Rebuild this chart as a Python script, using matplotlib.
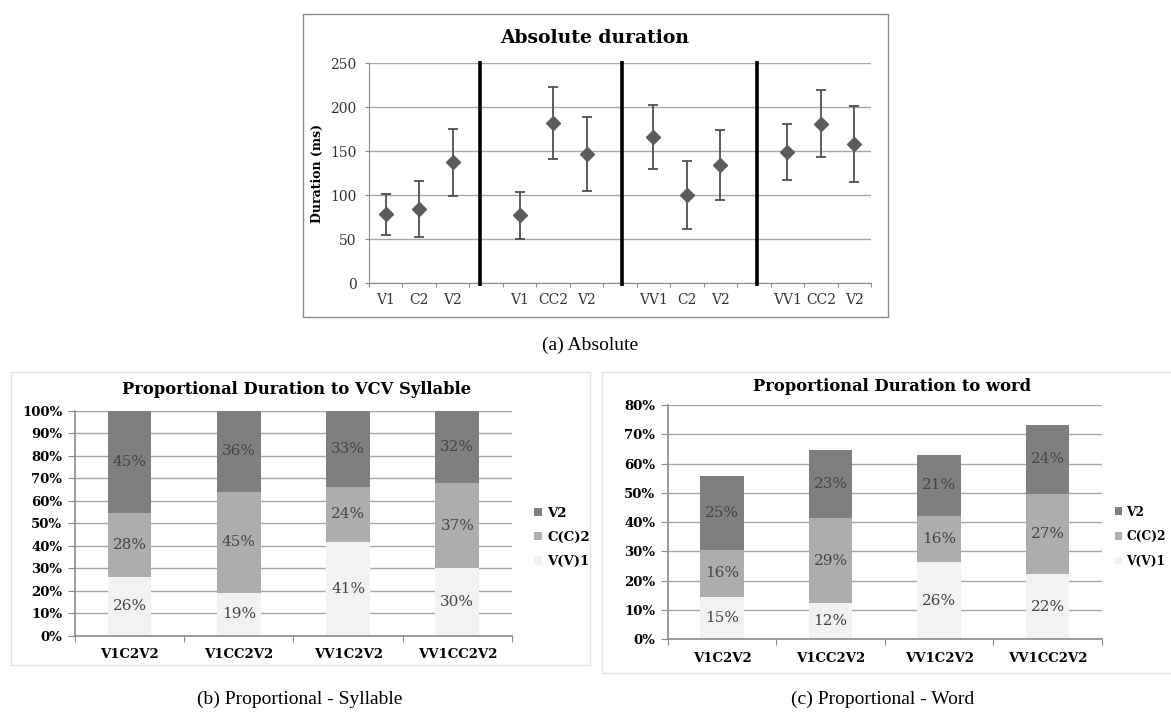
import numpy as np
import matplotlib
matplotlib.use('Agg')
import matplotlib.pyplot as plt
from matplotlib.patches import Rectangle

plt.rcParams['font.family'] = 'DejaVu Serif'

# (a) absolute durations in ms, blanks are the gaps between word types
seg_labels = ['V1', 'C2', 'V2', '', 'V1', 'CC2', 'V2', '', 'VV1', 'C2', 'V2', '', 'VV1', 'CC2', 'V2']
dur_mean = [78, 84, 137, np.nan, 77, 182, 147, np.nan, 166, 100, 134, np.nan, 149, 181, 158]
dur_sd = [23, 32, 38, np.nan, 27, 41, 42, np.nan, 36, 39, 40, np.nan, 32, 38, 43]
dividers = [3.32, 7.55, 11.58]

words = ['V1C2V2', 'V1CC2V2', 'VV1C2V2', 'VV1CC2V2']
series = ['V(V)1', 'C(C)2', 'V2']

# (b) share of the VCV syllable (%), 100% stacked
syl_v1 = [26, 19, 41, 30]
syl_c2 = [28, 45, 24, 37]
syl_v2 = [45, 36, 33, 32]

# (c) share of the word (%)
word_v1 = [14.6, 12.3, 26.3, 22.4]
word_c2 = [15.9, 29.1, 15.8, 27.3]
word_v2 = [25.2, 23.2, 20.9, 23.6]

colors = ['#f2f2f2', '#adadad', '#7f7f7f']
axis_grey = '#8a8a8a'
grid_grey = '#a6a6a6'

fig = plt.figure(figsize=(11.71, 7.22), dpi=100)

# chart frames
fig.add_artist(Rectangle((0.2588, 0.5609), 0.4996, 0.4197, transform=fig.transFigure,
                         fill=False, ec='#8c8c8c', lw=1))
fig.add_artist(Rectangle((0.0094, 0.0790), 0.4945, 0.4058, transform=fig.transFigure,
                         fill=False, ec='#e2e2e2', lw=1))
fig.add_artist(Rectangle((0.5141, 0.0679), 0.4900, 0.4169, transform=fig.transFigure,
                         fill=False, ec='#e2e2e2', lw=1))

# ---- (a) absolute duration
ax = fig.add_axes([0.3151, 0.6080, 0.4287, 0.3047])
x = np.arange(len(seg_labels)) + 0.5
ax.errorbar(x, dur_mean, yerr=dur_sd, fmt='D', color='#5c5c5c', ms=7,
            ecolor='#4f4f4f', elinewidth=1.3, capsize=3.5, capthick=1.3, zorder=3)
ax.vlines(dividers, -3, 252, colors='black', lw=2.6, clip_on=False, zorder=4)
ax.set_xlim(0, 15)
ax.set_ylim(0, 250)
ax.set_yticks(range(0, 251, 50))
ax.yaxis.grid(True, color=grid_grey, lw=1)
ax.set_axisbelow(True)
ax.set_xticks(np.arange(0, 16))
ax.set_xticklabels([])
ax.set_xticks(x, minor=True)
ax.set_xticklabels(seg_labels, minor=True, fontsize=10, color='#333333')
ax.tick_params(axis='x', which='minor', length=0, pad=7)
ax.tick_params(axis='x', which='major', length=3, color=axis_grey)
ax.tick_params(axis='y', length=3, color=axis_grey, labelsize=10, labelcolor='#333333', pad=6)
for s in ['top', 'right']:
    ax.spines[s].set_visible(False)
for s in ['left', 'bottom']:
    ax.spines[s].set_color(axis_grey)
fig.text(0.508, 0.948, 'Absolute duration', ha='center', va='center',
         fontsize=13.5, fontweight='bold')
fig.text(0.271, 0.760, 'Duration (ms)', rotation=90, ha='center', va='center',
         fontsize=9, fontweight='bold')


def stacked(ax, parts, ymax, step):
    pos = np.arange(len(words)) + 0.5
    bottom = np.zeros(len(words))
    conts = []
    for vals, name, c in zip(parts, series, colors):
        vals = np.asarray(vals, dtype=float)
        b = ax.bar(pos, vals, 0.40, bottom=bottom, color=c, label=name, zorder=2)
        conts.append(b)
        bottom = bottom + vals
    ax.set_xlim(0, len(words))
    ax.set_ylim(0, ymax)
    ticks = np.arange(0, ymax + 0.001, step)
    ax.set_yticks(ticks)
    ax.set_yticklabels(['%d%%' % round(t) for t in ticks], fontweight='bold')
    ax.yaxis.grid(True, color=grid_grey, lw=1)
    ax.set_axisbelow(True)
    ax.set_xticks(np.arange(0, len(words) + 1))
    ax.set_xticklabels([])
    ax.set_xticks(pos, minor=True)
    ax.set_xticklabels(words, minor=True, fontweight='bold', fontsize=9.5)
    ax.tick_params(axis='x', which='minor', length=0, pad=9)
    ax.tick_params(axis='x', which='major', length=4, color=axis_grey)
    ax.tick_params(axis='y', length=5, color=axis_grey, labelsize=9.5, pad=4)
    for s in ['top', 'right']:
        ax.spines[s].set_visible(False)
    for s in ['left', 'bottom']:
        ax.spines[s].set_color(axis_grey)
        ax.spines[s].set_linewidth(1.2)
    return conts


# ---- (b) proportional to syllable
axb = fig.add_axes([0.0640, 0.1195, 0.3732, 0.3116])
raw_b = [syl_v1, syl_c2, syl_v2]
tot_b = np.sum(raw_b, axis=0)
norm_b = [np.asarray(v) / tot_b * 100 for v in raw_b]
conts = stacked(axb, norm_b, 100, 10)
for cont, raw in zip(conts, raw_b):
    axb.bar_label(cont, labels=['%d%%' % v for v in raw], label_type='center',
                  fontsize=11, color='#444444')
axb.legend(handles=conts[::-1], loc='center left', bbox_to_anchor=(1.05, 0.437),
           frameon=False, handlelength=0.6, handleheight=0.6, handletextpad=0.4,
           labelspacing=0.85, borderpad=0, borderaxespad=0,
           prop={'weight': 'bold', 'size': 9.5})
fig.text(0.253, 0.461, 'Proportional Duration to VCV Syllable', ha='center', va='center',
         fontsize=11.8, fontweight='bold')

# ---- (c) proportional to word
axc = fig.add_axes([0.5704, 0.1145, 0.3706, 0.3246])
raw_c = [word_v1, word_c2, word_v2]
conts = stacked(axc, raw_c, 80, 10)
for cont, raw in zip(conts, raw_c):
    axc.bar_label(cont, labels=['%.0f%%' % v for v in raw], label_type='center',
                  fontsize=11, color='#444444')
axc.legend(handles=conts[::-1], loc='center left', bbox_to_anchor=(1.03, 0.438),
           frameon=False, handlelength=0.6, handleheight=0.6, handletextpad=0.35,
           labelspacing=0.95, borderpad=0, borderaxespad=0,
           prop={'weight': 'bold', 'size': 8.8})
fig.text(0.762, 0.464, 'Proportional Duration to word', ha='center', va='center',
         fontsize=11.8, fontweight='bold')

# captions
cap = dict(ha='center', va='center', fontsize=14, family='Liberation Serif')
fig.text(0.504, 0.522, '(a) Absolute', **cap)
fig.text(0.256, 0.031, '(b) Proportional - Syllable', **cap)
fig.text(0.754, 0.031, '(c) Proportional - Word', **cap)

fig.savefig('out.png', dpi=100)
